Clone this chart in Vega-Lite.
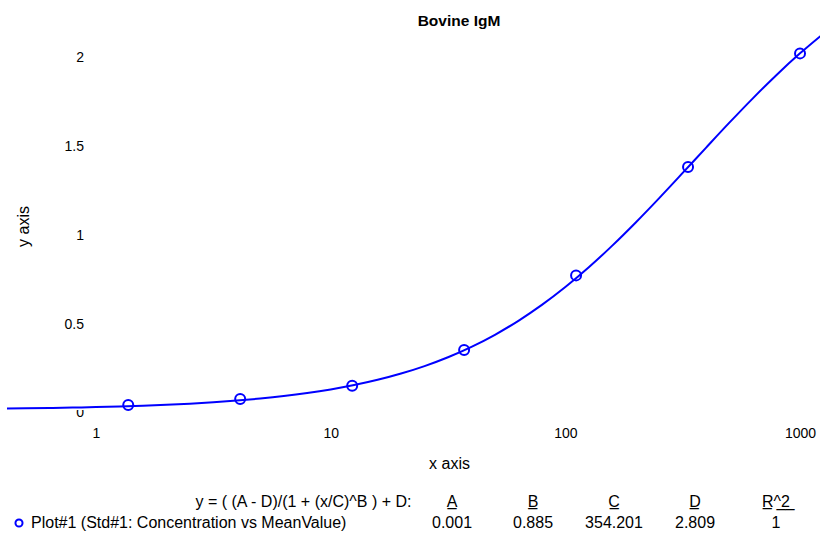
{
  "$schema": "https://vega.github.io/schema/vega-lite/v6.json",
  "autosize": {"type": "none"},
  "padding": {"left": 7, "top": 30, "right": 0, "bottom": 0},
  "width": 813,
  "height": 503,
  "background": "white",
  "config": {"view": {"stroke": null}, "font": "Liberation Sans"},
  "title": {"text": "Bovine IgM", "fontSize": 15.5, "fontWeight": "bold", "color": "black", "anchor": "middle", "frame": "group", "dx": 45.5, "dy": 15.5, "offset": 4.5, "baseline": "alphabetic"},
  "datasets": {
    "curve": [
      {"conc": 0.3981, "od": 0.0079}, {"conc": 0.5012, "od": 0.0094}, {"conc": 0.631, "od": 0.0113},
      {"conc": 0.7943, "od": 0.0136}, {"conc": 1, "od": 0.0165}, {"conc": 1.2589, "od": 0.02},
      {"conc": 1.5849, "od": 0.0242}, {"conc": 1.9953, "od": 0.0294}, {"conc": 2.5119, "od": 0.0357},
      {"conc": 3.1623, "od": 0.0435}, {"conc": 3.9811, "od": 0.0529}, {"conc": 5.0119, "od": 0.0644},
      {"conc": 6.3096, "od": 0.0783}, {"conc": 7.9433, "od": 0.0952}, {"conc": 10, "od": 0.1156},
      {"conc": 12.589, "od": 0.1402}, {"conc": 15.849, "od": 0.1698}, {"conc": 19.953, "od": 0.2051},
      {"conc": 25.119, "od": 0.2472}, {"conc": 31.623, "od": 0.297}, {"conc": 39.811, "od": 0.3556},
      {"conc": 50.119, "od": 0.4237}, {"conc": 63.096, "od": 0.5022}, {"conc": 79.433, "od": 0.5916},
      {"conc": 100, "od": 0.6923}, {"conc": 125.89, "od": 0.8038}, {"conc": 158.49, "od": 0.9256},
      {"conc": 199.53, "od": 1.0561}, {"conc": 251.19, "od": 1.1933}, {"conc": 316.23, "od": 1.3348},
      {"conc": 398.11, "od": 1.4777}, {"conc": 501.19, "od": 1.6192}, {"conc": 630.96, "od": 1.7563},
      {"conc": 794.33, "od": 1.8867}, {"conc": 1000, "od": 2.0082}, {"conc": 1258.9, "od": 2.1196}
    ],
    "std": [
      {"conc": 1.372, "od": 0.028, "series": "Plot#1 (Std#1: Concentration vs MeanValue)"},
      {"conc": 4.115, "od": 0.062, "series": "Plot#1 (Std#1: Concentration vs MeanValue)"},
      {"conc": 12.35, "od": 0.137, "series": "Plot#1 (Std#1: Concentration vs MeanValue)"},
      {"conc": 37.04, "od": 0.338, "series": "Plot#1 (Std#1: Concentration vs MeanValue)"},
      {"conc": 111.1, "od": 0.758, "series": "Plot#1 (Std#1: Concentration vs MeanValue)"},
      {"conc": 333.3, "od": 1.368, "series": "Plot#1 (Std#1: Concentration vs MeanValue)"},
      {"conc": 1000, "od": 2.008, "series": "Plot#1 (Std#1: Concentration vs MeanValue)"}
    ],
    "table": [
      {"row": "h", "col": "eq", "label": "y = ( (A - D)/(1 + (x/C)^B ) + D:"},
      {"row": "h", "col": "A", "label": "A\u0332"},
      {"row": "h", "col": "B", "label": "B\u0332"},
      {"row": "h", "col": "C", "label": "C\u0332"},
      {"row": "h", "col": "D", "label": "D\u0332"},
      {"row": "h", "col": "R^2", "label": "R\u0332^\u03322\u0332"},
      {"row": "v", "col": "A", "label": "0.001"},
      {"row": "v", "col": "B", "label": "0.885"},
      {"row": "v", "col": "C", "label": "354.201"},
      {"row": "v", "col": "D", "label": "2.809"},
      {"row": "v", "col": "R^2", "label": "1"}
    ]
  },
  "resolve": {"scale": {"x": "independent", "y": "independent"}, "axis": {"x": "independent", "y": "independent"}},
  "layer": [
    {
      "encoding": {
        "x": {
          "field": "conc", "type": "quantitative",
          "scale": {"type": "log", "domain": [0.4176, 1216.6], "nice": false},
          "axis": {"values": [1, 10, 100, 1000], "format": "~g", "title": "x axis", "grid": false, "domain": false, "ticks": false, "tickSize": 0,
            "offset": -113, "labelFontSize": 14, "labelColor": "black", "labelPadding": 6, "labelFlush": false, "labelOverlap": false,
            "titleFontSize": 16, "titleFontWeight": "normal", "titleColor": "black", "titleX": 442, "titleY": 48, "titleBaseline": "alphabetic"}
        },
        "y": {
          "field": "od", "type": "quantitative",
          "scale": {"domain": [-0.69257, 2.13964], "nice": false, "zero": false},
          "axis": {"values": [0, 0.5, 1, 1.5, 2], "format": "~g", "title": "y axis", "grid": false, "domain": false, "ticks": false, "tickSize": 0,
            "offset": -81, "labelPadding": 4.5, "labelOffset": 3, "labelFontSize": 14, "labelColor": "black", "labelFlush": false, "labelOverlap": false,
            "titleFontSize": 16, "titleFontWeight": "normal", "titleColor": "black", "titleX": -60, "titleY": 196, "titleAngle": -90, "titleBaseline": "alphabetic"}
        }
      },
      "layer": [
        {"data": {"name": "curve"}, "mark": {"type": "line", "color": "white", "strokeWidth": 5, "clip": true, "interpolate": "monotone"}},
        {"data": {"name": "curve"}, "mark": {"type": "line", "color": "#0000ff", "strokeWidth": 2, "clip": true, "interpolate": "monotone"}},
        {
          "data": {"name": "std"},
          "mark": {"type": "point", "shape": "circle", "filled": false, "size": 100, "strokeWidth": 2, "opacity": 1},
          "encoding": {
            "color": {"field": "series", "type": "nominal", "scale": {"range": ["#0000ff"]},
              "legend": {"orient": "none", "legendX": 4, "legendY": 485, "title": null, "labelFontSize": 16, "labelColor": "black", "labelLimit": 500, "symbolSize": 50, "symbolStrokeWidth": 2, "symbolType": "circle", "labelOffset": 4, "padding": 0}}
          }
        }
      ]
    },
    {
      "data": {"name": "table"},
      "encoding": {
        "y": {"field": "row", "type": "nominal", "scale": {"type": "point", "domain": ["h", "v"], "range": [472, 492.5], "padding": 0}, "axis": null},
        "text": {"field": "label"}
      },
      "layer": [
        {
          "transform": [{"filter": "datum.col != 'eq'"}],
          "mark": {"type": "text", "fontSize": 16, "color": "black", "align": "center", "baseline": "middle"},
          "encoding": {
            "x": {"field": "col", "type": "nominal", "scale": {"type": "band", "domain": ["eq", "A", "B", "C", "D", "R^2"], "paddingInner": 0, "paddingOuter": 0, "range": [323.5, 809.5]}, "axis": null}
          }
        },
        {
          "transform": [{"filter": "datum.col == 'eq'"}],
          "mark": {"type": "text", "fontSize": 16, "color": "black", "align": "right", "baseline": "middle"},
          "encoding": {
            "x": {"field": "col", "type": "nominal", "bandPosition": 1, "scale": {"type": "band", "domain": ["eq", "A", "B", "C", "D", "R^2"], "paddingInner": 0, "paddingOuter": 0, "range": [323.5, 809.5]}, "axis": null}
          }
        }
      ]
    }
  ]
}
